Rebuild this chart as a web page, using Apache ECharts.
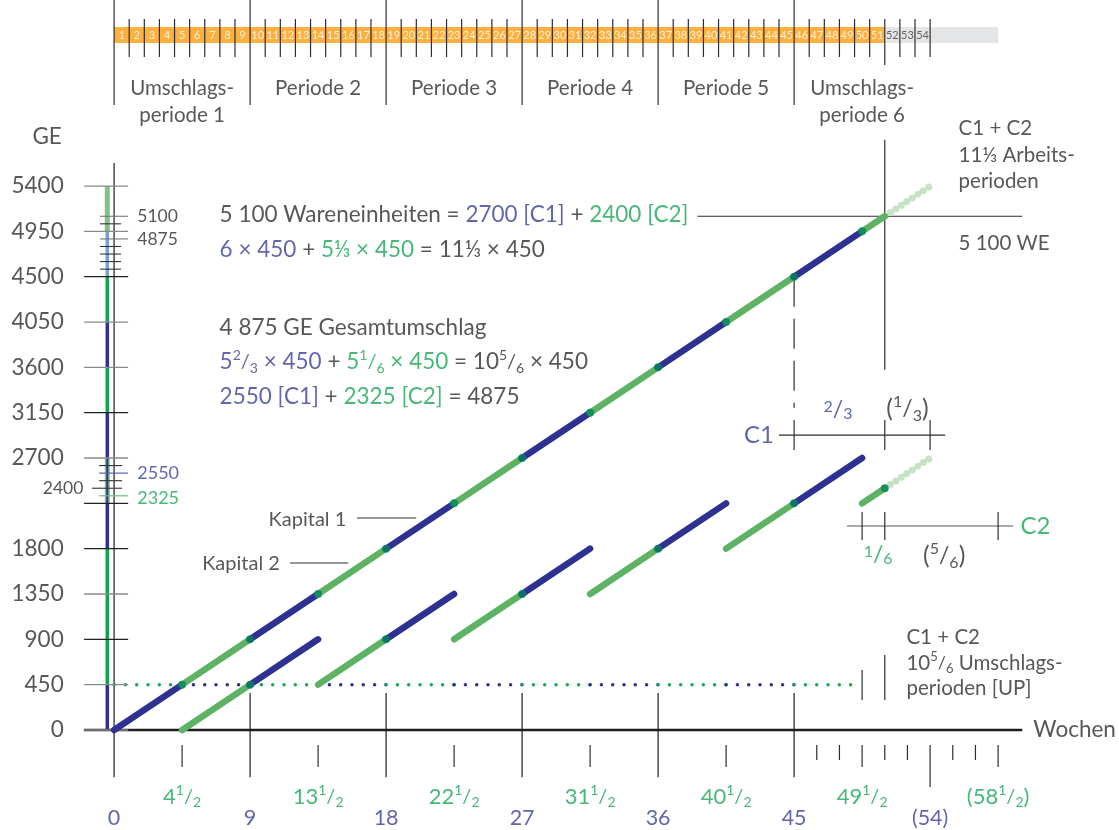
<!DOCTYPE html>
<html>
<head>
<meta charset="utf-8">
<script src="https://cdn.jsdelivr.net/npm/echarts@6/dist/echarts.min.js"></script>
<style>
  html, body { margin: 0; background: #fff; }
  #chart { width: 1119px; height: 830px; }
</style>
</head>
<body>
<div id="chart"></div>
<script>
// ---- data ----
// week cells of the top strip
const weekNumbers = [1, 2, 3, 4, 5, 6, 7, 8, 9, 10, 11, 12, 13, 14, 15, 16, 17, 18,
  19, 20, 21, 22, 23, 24, 25, 26, 27, 28, 29, 30, 31, 32, 33, 34, 35, 36,
  37, 38, 39, 40, 41, 42, 43, 44, 45, 46, 47, 48, 49, 50, 51, 52, 53, 54];
const lastWorkWeek = 51;
const stripEnd = 58.5;
const periodStarts = [0, 9, 18, 27, 36, 45];
const periodNames = ['Umschlags-\nperiode 1', 'Periode 2', 'Periode 3', 'Periode 4', 'Periode 5', 'Umschlags-\nperiode 6'];
const periodCenters = [4.5, 13.5, 22.5, 31.5, 40.5, 49.5];

// GE axis
const geTicks = [0, 450, 900, 1350, 1800, 2250, 2700, 3150, 3600, 4050, 4500, 4950, 5400];
const geLabels = [0, 450, 900, 1350, 1800, 2700, 3150, 3600, 4050, 4500, 4950, 5400];
const geDarkTicks = [900, 1800, 2250, 3150, 4500];
const geMinorTop = [4575, 4650, 4725, 4800, 5025];
const geMarkedTop = [5100, 4875];
const geMinorMid = [2475, 2625];
const geC1 = 2550, geC2 = 2325, geLeft = 2400;

// cumulative line: both capitals one after another
const cumWeeks = [0, 4.5, 9, 13.5, 18, 22.5, 27, 31.5, 36, 40.5, 45, 49.5, 51];
const cumGE = [0, 450, 900, 1350, 1800, 2250, 2700, 3150, 3600, 4050, 4500, 4950, 5100];
const cumOwner = ['C1', 'C2', 'C1', 'C2', 'C1', 'C2', 'C1', 'C2', 'C1', 'C2', 'C1', 'C2'];
const cumProjected = [[51, 5100], [54, 5400]];

// single runs of each capital [x1, y1, x2, y2, owner]
const runs = [
  [4.5, 0, 9, 450, 'C2'], [9, 450, 13.5, 900, 'C1'],
  [13.5, 450, 18, 900, 'C2'], [18, 900, 22.5, 1350, 'C1'],
  [22.5, 900, 27, 1350, 'C2'], [27, 1350, 31.5, 1800, 'C1'],
  [31.5, 1350, 36, 1800, 'C2'], [36, 1800, 40.5, 2250, 'C1'],
  [40.5, 1800, 45, 2250, 'C2'], [45, 2250, 49.5, 2700, 'C1'],
  [49.5, 2250, 51, 2400, 'C2']
];
const runJoints = [[9, 450], [18, 900], [27, 1350], [36, 1800], [45, 2250], [51, 2400]];
const runProjected = [[51, 2400], [54, 2700]];

// advance level (dotted): capital waiting while the other one works
const advanceLevel = 450;
const advanceSpans = [[0, 4.5, 'C2'], [4.5, 9, 'C1'], [9, 13.5, 'C2'], [13.5, 18, 'C1'],
  [18, 22.5, 'C2'], [22.5, 27, 'C1'], [27, 31.5, 'C2'], [31.5, 36, 'C1'],
  [36, 40.5, 'C2'], [40.5, 45, 'C1'], [45, 49, 'C2']];

// stacked column on the GE axis [from, to, colour key]
const stackSpans = [[0, 450, 'C1'], [450, 1800, 'C2'], [1800, 2250, 'C1'], [2250, 2700, 'C2l'],
  [2700, 3150, 'C1'], [3150, 3600, 'C2'], [3600, 4050, 'C1'], [4050, 4500, 'C2'],
  [4500, 4950, 'C1l'], [4950, 5400, 'C2l']];

// week axis
const blueWeeks = [0, 9, 18, 27, 36, 45];
const greenWeeks = [4.5, 13.5, 22.5, 31.5, 40.5, 49.5];
const greenWeekWholes = ['4', '13', '22', '31', '40', '49'];
const smallWeekTicks = [46.5, 48, 51, 52.5, 55.5, 57];
const endWeek = 54;
const endHalf = 58.5;

// ---- style ----
const FONT = 'Lato, "Open Sans", sans-serif';
const INK = '#2d2d2d';
const NAVY = '#2e3192';
const LGREEN = '#5db263';
const TEAL = '#00845e';
const TXT_BLUE = '#3a3f98';
const TXT_GREEN = '#19a656';
const colors = { C1: NAVY, C2: LGREEN };
const stackColors = { C1: NAVY, C2: '#13a24f', C2l: '#7fc287', C1l: '#7c9ed7' };

// rich styles: k = ink, b = blue, g = green; n/s/d = numerator, slash, denominator
function richSet(size) {
  const r = {};
  [['k', INK], ['b', TXT_BLUE], ['g', TXT_GREEN]].forEach(([key, c]) => {
    r[key] = { color: c, fontSize: size, fontFamily: FONT, lineHeight: Math.round(size * 1.2) };
    r[key + 'n'] = { color: c, fontSize: Math.round(size * 0.62), fontFamily: FONT, verticalAlign: 'top', lineHeight: Math.round(size * 0.85) };
    r[key + 's'] = { color: c, fontSize: Math.round(size * 0.9), fontFamily: FONT };
    r[key + 'd'] = { color: c, fontSize: Math.round(size * 0.62), fontFamily: FONT, verticalAlign: 'bottom', lineHeight: Math.round(size * 0.85) };
  });
  return r;
}
function frac(c, whole, n, d) {
  return (whole ? '{' + c + '|' + whole + '}' : '') + '{' + c + 'n|' + n + '}{' + c + 's|/}{' + c + 'd|' + d + '}';
}

const series = [];
function seg(pts, color, width, extra, z) {
  series.push({
    type: 'line', data: pts, symbol: 'none', silent: true, z: z || 2,
    lineStyle: Object.assign({ color: color, width: width }, extra || {})
  });
}
function text(x, y, str, opts) {
  series.push({
    type: 'scatter', data: [[x, y]], symbolSize: 1, silent: true, z: 10,
    itemStyle: { color: 'transparent' },
    label: Object.assign({
      show: true, position: 'inside', distance: 0, formatter: str,
      color: INK, fontSize: 21, fontFamily: FONT
    }, opts || {})
  });
}

// top strip
const stripY = 6899;
seg([[0, stripY], [lastWorkWeek, stripY]], '#fbb040', 16, { cap: 'butt' }, 1);
seg([[lastWorkWeek, stripY], [stripEnd, stripY]], '#e4e5e7', 16, { cap: 'butt' }, 1);
weekNumbers.forEach(w => {
  text(w - 0.5, stripY, String(w), { fontSize: 11, color: w > lastWorkWeek ? '#444' : '#fff' });
  if (periodStarts.indexOf(w) < 0) {
    seg([[w, 7058], [w, w === lastWorkWeek ? 6601 : 6681]], INK, 1.2, null, 3);
  }
});
periodStarts.forEach(p => seg([[p, 7247], [p, 6204]], INK, 1.2, null, 3));
periodNames.forEach((n, i) => {
  text(periodCenters[i], n.indexOf('\n') > 0 ? 6240 : 6373, n, { fontSize: 20.5, lineHeight: 27 });
});

// axes
seg([[0, 5628], [0, -470]], INK, 1.3);
seg([[-2, 0], [60.1, 0]], '#1e1e1e', 2.6, null, 3);
text(60.8, 0, 'Wochen', { position: 'right', fontSize: 22.5 });
text(-4.43, 5886, 'GE', { fontSize: 22.5 });

// GE ticks and labels
geTicks.forEach(v => seg([[-1.985, v], [0.93, v]], geDarkTicks.indexOf(v) >= 0 ? '#222' : '#8a8a8a', 1.3, null, 4));
geLabels.forEach(v => text(-3.3, v, String(v), { position: 'left', fontSize: 22.5 }));
geMinorTop.forEach(v => seg([[-0.93, v], [0.46, v]], '#333', 1.1, null, 4));
geMarkedTop.forEach(v => {
  seg([[-0.93, v], [0.93, v]], '#777', 1.1, null, 4);
  text(1.5, v, String(v), { position: 'right', fontSize: 17.5 });
});
geMinorMid.forEach(v => seg([[-0.99, v], [0.53, v]], '#333', 1.1, null, 4));
seg([[-1.46, geLeft], [0.53, geLeft]], '#333', 1.1, null, 4);
text(-2.0, geLeft, String(geLeft), { position: 'left', fontSize: 17.5 });
seg([[-0.99, geC1], [0.93, geC1]], '#5a5fb0', 1.2, null, 4);
text(1.5, geC1, String(geC1), { position: 'right', fontSize: 18, color: TXT_BLUE });
seg([[-0.99, geC2], [0.93, geC2]], '#6cc17a', 1.2, null, 4);
text(1.5, geC2 - 20, String(geC2), { position: 'right', fontSize: 18, color: TXT_GREEN });

// stacked column
stackSpans.forEach(s => seg([[-0.45, s[0]], [-0.45, s[1]]], stackColors[s[2]], s[2] === 'C2l' ? 5 : 3.5, { cap: 'butt' }, 3));
seg([[-0.45, 2250], [-0.45, 2700]], NAVY, 2, { cap: 'butt' }, 3);

// week axis ticks & labels
const rich21 = richSet(22);
blueWeeks.forEach((w, i) => {
  seg([[w, i === 0 ? -470 : 367], [w, -470]], INK, 1.3, null, 1);
  text(w, -874, String(w), { fontSize: 21.5, color: TXT_BLUE });
});
greenWeeks.forEach((w, i) => {
  seg([[w, -149], [w, -367]], INK, 1.2);
  text(w, -665, frac('g', greenWeekWholes[i], 1, 2), { rich: rich21 });
});
smallWeekTicks.forEach(w => seg([[w, -149], [w, -298]], INK, 1.2));
seg([[endWeek, -149], [endWeek, -566]], INK, 1.2);
text(endWeek, -874, '(' + endWeek + ')', { fontSize: 21.5, color: TXT_BLUE });
seg([[endHalf, -149], [endHalf, -367]], INK, 1.2);
text(endHalf, -665, '{g|(58}' + frac('g', '', 1, 2) + '{g|)}', { rich: rich21 });

// dotted advance level
advanceSpans.forEach(s => seg([[s[0], advanceLevel], [s[1], advanceLevel]],
  s[2] === 'C1' ? NAVY : '#1aa552', 3.5, { type: [0, 11.3], cap: 'round' }, 2));

// cumulative line
cumOwner.forEach((o, i) => seg([[cumWeeks[i], cumGE[i]], [cumWeeks[i + 1], cumGE[i + 1]]], colors[o], 6.5, { cap: 'round' }, 5));
seg(cumProjected, '#c6e4c4', 7, { type: [0, 6.6], cap: 'round' }, 4);
// single runs
runs.forEach(r => seg([[r[0], r[1]], [r[2], r[3]]], colors[r[4]], 6.5, { cap: 'round' }, 5));
seg(runProjected, '#c6e4c4', 7, { type: [0, 6.6], cap: 'round' }, 4);

// joints
series.push({
  type: 'scatter', silent: true, z: 6, symbolSize: 8, itemStyle: { color: TEAL },
  data: cumWeeks.slice(1, -1).map((w, i) => [w, cumGE[i + 1]]).concat(runJoints)
});

// crosshair at 5100 WE
seg([[51, 5860], [51, 3575]], INK, 1.2);
seg([[38.6, 5100], [60.1, 5100]], INK, 1.2);
// dashed guide at week 45
seg([[45, 4500], [45, 3200]], INK, 1.2, { type: [30, 12] });

// C1 bracket
const richBr = richSet(25);
seg([[44.0, 2928], [55.0, 2928]], INK, 1.2);
[45, 51, 54].forEach(w => seg([[w, 3077], [w, 2779]], INK, 1.2));
text(43.7, 2928, 'C1', { position: 'left', fontSize: 24, color: TXT_BLUE });
text(47.9, 3176, frac('b', '', 2, 3), { rich: richBr });
text(52.5, 3186, '{k|(}' + frac('k', '', 1, 3) + '{k|)}', { rich: richBr });
// C2 bracket
seg([[48.5, 2025], [59.5, 2025]], '#555', 1.2);
[49.5, 51, 58.5].forEach(w => seg([[w, 2164], [w, 1886]], INK, 1.2));
text(59.95, 2025, 'C2', { position: 'right', fontSize: 24, color: TXT_GREEN });
text(50.56, 1737, frac('g', '', 1, 6), { rich: richBr });
text(54.93, 1727, '{k|(}' + frac('k', '', 5, 6) + '{k|)}', { rich: richBr });

// 10 5/6 marks
seg([[49.5, 596], [49.5, 298]], INK, 1.2);
seg([[51, 744], [51, 298]], INK, 1.2);
text(52.4, 665, '{k|C1 + C2}\n' + frac('k', '10', 5, 6) + '{k| Umschlags-}\n{k|perioden [UP]}',
  { position: 'right', rich: richSet(20.5), lineHeight: 25.5 });

// top right notes
text(55.85, 5708, 'C1 + C2\n11⅓ Arbeits-\nperioden', { position: 'right', fontSize: 20.5, lineHeight: 26.5 });
text(55.85, 4834, '5 100 WE', { position: 'right', fontSize: 20.5 });

// Kapital labels
seg([[16.08, 2104], [19.99, 2104]], INK, 1.1);
text(15.4, 2090, 'Kapital 1', { position: 'left', fontSize: 20 });
seg([[11.65, 1658], [15.49, 1658]], INK, 1.1);
text(11.0, 1650, 'Kapital 2', { position: 'left', fontSize: 20 });

// formulas
const rich22 = richSet(22.5);
const formulas = [
  [5112, '{k|5 100 Wareneinheiten = }{b|2700 [C1]}{k| + }{g|2400 [C2]}'],
  [4765, '{b|6 × 450}{k| + }{g|5⅓ × 450}{k| = 11⅓ × 450}'],
  [3990, '{k|4 875 GE Gesamtumschlag}'],
  [3653, frac('b', '5', 2, 3) + '{b| × 450}{k| + }' + frac('g', '5', 1, 6) + '{g| × 450}{k| = }' + frac('k', '10', 5, 6) + '{k| × 450}'],
  [3306, '{b|2550 [C1]}{k| + }{g|2325 [C2]}{k| = 4875}']
];
formulas.forEach(f => text(6.95, f[0], f[1], { position: 'right', rich: rich22 }));

const chart = echarts.init(document.getElementById('chart'));
chart.setOption({
  animation: false,
  grid: { left: 0, right: 0, top: 0, bottom: 0 },
  xAxis: { type: 'value', min: -7.55, max: 66.5, show: false },
  yAxis: { type: 'value', min: -993, max: 7247, show: false },
  series: series
});
</script>
</body>
</html>
